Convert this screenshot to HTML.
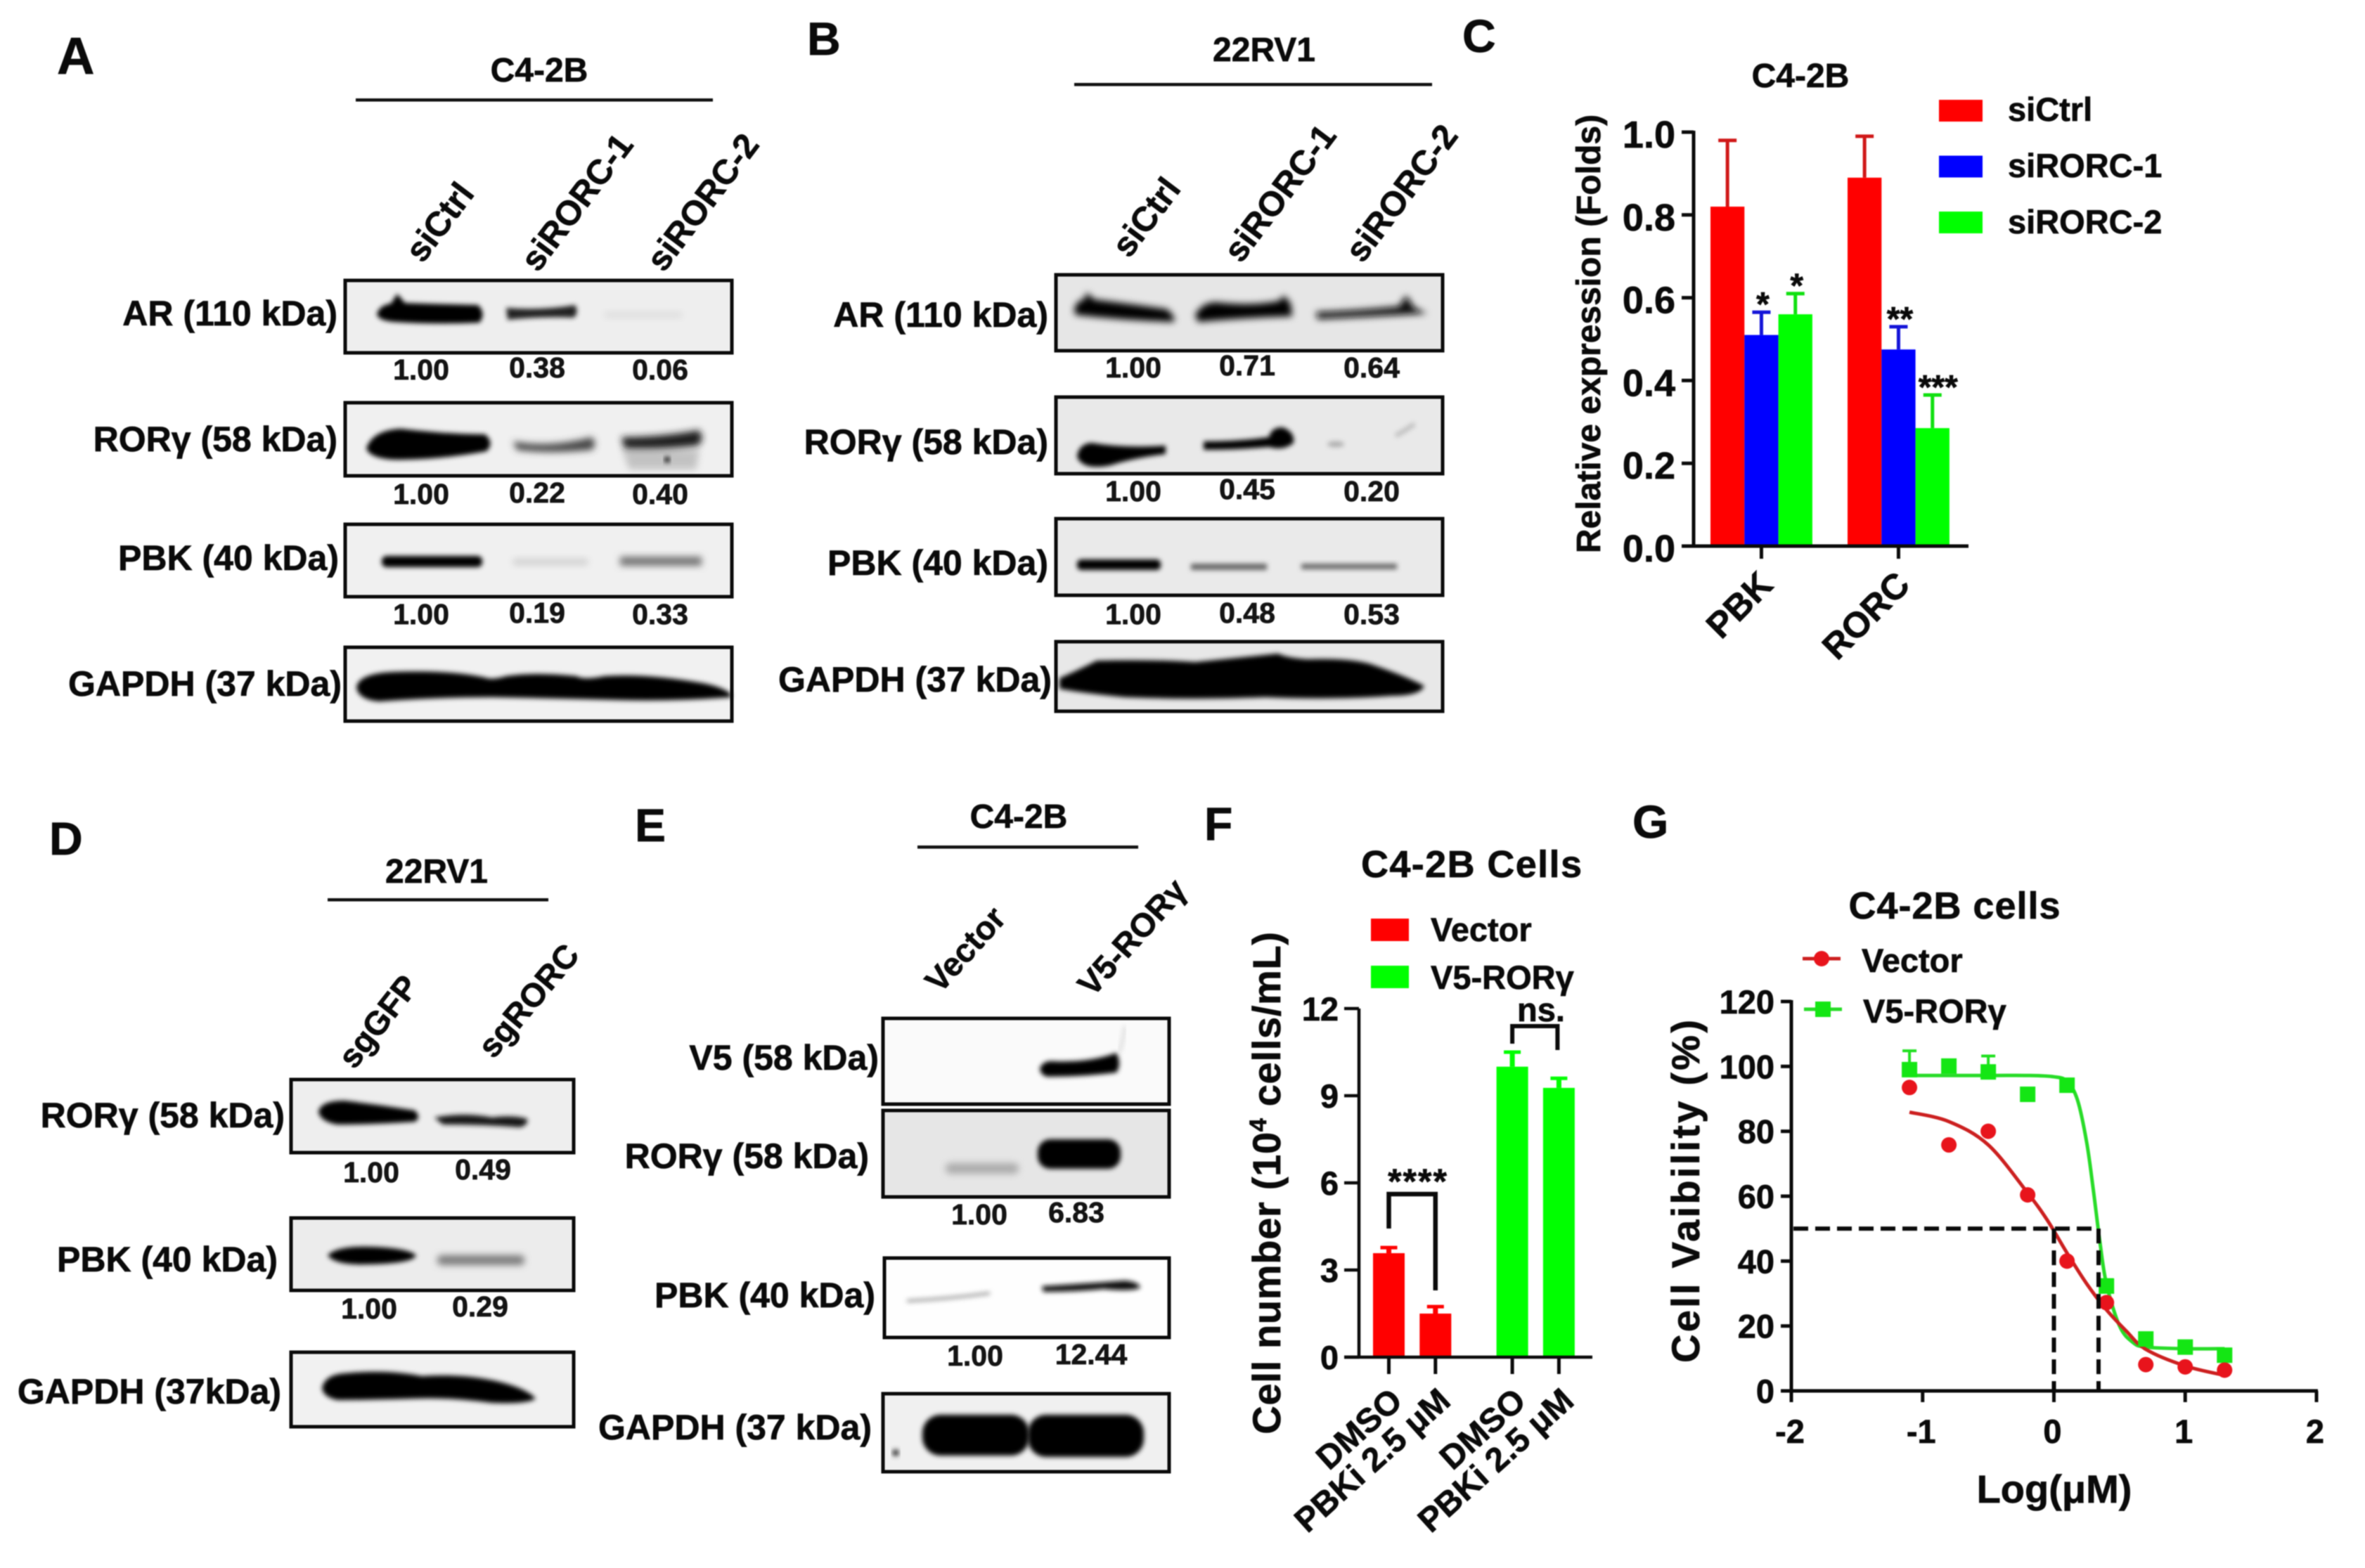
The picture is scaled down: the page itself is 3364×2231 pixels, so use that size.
<!DOCTYPE html>
<html lang="en">
<head>
<meta charset="utf-8">
<title>Western blots and charts</title>
<style>
html,body{margin:0;padding:0;background:#fff;}
#figure{display:block;width:3364px;height:2231px;filter:blur(0.8px);}
text{font-family:"Liberation Sans",sans-serif;font-weight:700;fill:#0a0a0a;stroke:#0a0a0a;stroke-width:.7px;}
.p{font-size:66px;}
.h{font-size:48px;text-anchor:middle;}
.s{font-size:47px;}
.s2{font-size:49px;}
.l{font-size:50px;text-anchor:end;}
.v{font-size:41px;text-anchor:middle;fill:#141414;}
.box{fill:none;stroke:#0a0a0a;stroke-width:5;}
</style>
</head>
<body>
<svg id="figure" xmlns="http://www.w3.org/2000/svg" width="3364" height="2231" viewBox="0 0 3364 2231">
<defs>
<filter id="b2" x="-20%" y="-80%" width="140%" height="260%"><feGaussianBlur stdDeviation="3.5"/></filter>
<filter id="b4" x="-20%" y="-80%" width="140%" height="260%"><feGaussianBlur stdDeviation="5"/></filter>
<filter id="b8" x="-30%" y="-150%" width="160%" height="400%"><feGaussianBlur stdDeviation="8"/></filter>
</defs>
<rect width="3364" height="2231" fill="#fff"/>

<!-- PANEL A -->
<g>
<text class="p" style="font-size:74px" x="81" y="105">A</text>
<text class="h" x="767" y="116">C4-2B</text>
<rect x="506" y="140" width="508" height="4.5" fill="#111"/>
<text class="s2" transform="translate(601,376) rotate(-53)">siCtrl</text>
<text class="s2" transform="translate(765,389) rotate(-53)">siRORC-1</text>
<text class="s2" transform="translate(944,389) rotate(-53)">siRORC-2</text>
<text class="l" x="480" y="463">AR (110 kDa)</text>
<text class="l" x="480" y="642">RORγ (58 kDa)</text>
<text class="l" x="482" y="811">PBK (40 kDa)</text>
<text class="l" x="486" y="990">GAPDH (37 kDa)</text>
<g>
<rect x="491" y="399" width="550" height="103" fill="#eeeeee"/>
<path filter="url(#b2)" d="M536 447Q540 434 556 432L565 418 576 431Q630 433 680 434Q692 446 682 459Q620 462 560 458Q538 456 536 447Z"/>
<path filter="url(#b2)" fill="#222" d="M720 438Q770 442 818 434Q824 445 816 452Q770 450 722 455Z"/>
<rect x="860" y="444" width="110" height="8" fill="#dcdcdc" filter="url(#b4)"/>
<rect x="491" y="399" width="550" height="103" class="box"/>
</g>
<g>
<rect x="491" y="573" width="550" height="104" fill="#f0f0f0"/>
<path filter="url(#b4)" fill="#8c8c8c" d="M885 640H995L990 668H895Z" opacity=".45"/>
<path filter="url(#b2)" d="M521 638Q530 612 570 610Q640 618 690 618Q704 630 692 642Q620 655 560 654Q526 652 521 638Z"/>
<path filter="url(#b4)" fill="#444" d="M730 628Q780 638 842 622Q850 632 842 640Q780 646 735 640Z"/>
<path filter="url(#b4)" fill="#1c1c1c" d="M884 622Q940 622 994 612Q1004 625 992 634Q940 640 888 638Z"/>
<circle cx="949" cy="654" r="4" filter="url(#b2)"/>
<rect x="491" y="573" width="550" height="104" class="box"/>
</g>
<g>
<rect x="491" y="746" width="550" height="103" fill="#f0f0f0"/>
<rect x="543" y="791" width="143" height="16" rx="7" filter="url(#b2)"/>
<rect x="730" y="795" width="106" height="9" fill="#cfcfcf" filter="url(#b4)"/>
<rect x="882" y="792" width="116" height="13" fill="#737373" filter="url(#b4)"/>
<rect x="491" y="746" width="550" height="103" class="box"/>
</g>
<g>
<rect x="491" y="921" width="550" height="105" fill="#f1f1f1"/>
<path filter="url(#b2)" d="M507 978Q510 958 560 956Q640 953 690 964Q700 968 720 962Q760 956 820 962Q830 968 860 962Q920 958 1000 972Q1030 978 1040 988V992Q960 998 880 996Q800 994 700 992Q620 992 540 998Q510 996 507 978Z"/>
<rect x="491" y="921" width="550" height="105" class="box"/>
</g>
<text class="v" x="599" y="540">1.00</text>
<text class="v" x="764" y="537">0.38</text>
<text class="v" x="939" y="540">0.06</text>
<text class="v" x="599" y="717">1.00</text>
<text class="v" x="764" y="715">0.22</text>
<text class="v" x="939" y="717">0.40</text>
<text class="v" x="599" y="888">1.00</text>
<text class="v" x="764" y="886">0.19</text>
<text class="v" x="939" y="888">0.33</text>
</g>

<!-- PANEL B -->
<g>
<text class="p" x="1148" y="78">B</text>
<text class="h" x="1798" y="87">22RV1</text>
<rect x="1528" y="118" width="509" height="4.5" fill="#111"/>
<text class="s2" transform="translate(1606,369) rotate(-53)">siCtrl</text>
<text class="s2" transform="translate(1765,376) rotate(-53)">siRORC-1</text>
<text class="s2" transform="translate(1938,376) rotate(-53)">siRORC-2</text>
<text class="l" x="1491" y="465">AR (110 kDa)</text>
<text class="l" x="1491" y="646">RORγ (58 kDa)</text>
<text class="l" x="1491" y="818">PBK (40 kDa)</text>
<text class="l" x="1496" y="984">GAPDH (37 kDa)</text>
<g>
<rect x="1502" y="391" width="550" height="108" fill="#e6e6e6"/>
<path filter="url(#b4)" d="M1528 442Q1530 428 1542 426L1546 416 1556 426Q1620 434 1660 440Q1672 450 1670 458Q1600 456 1530 448Z"/>
<path filter="url(#b4)" d="M1700 448Q1710 430 1730 430Q1780 436 1820 428L1826 420 1836 432 1838 450Q1770 452 1704 458Z"/>
<path filter="url(#b4)" fill="#111" d="M1872 444Q1930 442 1990 436L2000 420 2012 438 2030 446Q1960 450 1874 454Z"/>
<rect x="1502" y="391" width="550" height="108" class="box"/>
</g>
<g>
<rect x="1502" y="565" width="550" height="109" fill="#e9e9e9"/>
<path filter="url(#b2)" d="M1532 650Q1534 632 1552 630Q1600 638 1658 634V646Q1610 652 1580 662Q1540 670 1532 650Z"/>
<path filter="url(#b2)" d="M1712 628Q1760 628 1805 622Q1808 608 1824 608Q1842 614 1840 630Q1826 642 1805 636Q1760 640 1712 640Z"/>
<ellipse cx="1900" cy="632" rx="12" ry="4" fill="#aaa" filter="url(#b2)"/>
<path d="M1985 620Q2000 612 2012 603" stroke="#bbb" stroke-width="6" fill="none" filter="url(#b2)"/>
<rect x="1502" y="565" width="550" height="109" class="box"/>
</g>
<g>
<rect x="1502" y="738" width="550" height="109" fill="#eaeaea"/>
<rect x="1532" y="796" width="119" height="15" rx="6" filter="url(#b2)"/>
<rect x="1694" y="802" width="108" height="9" fill="#666" filter="url(#b2)"/>
<rect x="1851" y="802" width="136" height="8" fill="#6a6a6a" filter="url(#b2)"/>
<rect x="1502" y="738" width="550" height="109" class="box"/>
</g>
<g>
<rect x="1502" y="913" width="550" height="99" fill="#e8e8e8"/>
<path filter="url(#b2)" d="M1507 965Q1530 955 1560 940Q1640 938 1700 942Q1760 936 1818 930Q1830 936 1860 938Q1920 936 1950 945Q2000 962 2026 976Q2020 990 1980 990Q1900 996 1800 992Q1700 996 1600 992Q1540 986 1507 980Z"/>
<rect x="1502" y="913" width="550" height="99" class="box"/>
</g>
<text class="v" x="1612" y="537">1.00</text>
<text class="v" x="1774" y="534">0.71</text>
<text class="v" x="1951" y="537">0.64</text>
<text class="v" x="1612" y="713">1.00</text>
<text class="v" x="1774" y="710">0.45</text>
<text class="v" x="1951" y="713">0.20</text>
<text class="v" x="1612" y="888">1.00</text>
<text class="v" x="1774" y="886">0.48</text>
<text class="v" x="1951" y="888">0.53</text>
</g>

<!-- PANEL D -->
<g>
<text class="p" x="70" y="1216">D</text>
<text class="h" x="621" y="1256">22RV1</text>
<rect x="466" y="1278" width="314" height="4.5" fill="#111"/>
<text class="s" transform="translate(504,1523) rotate(-52)">sgGFP</text>
<text class="s" transform="translate(702,1508) rotate(-50)">sgRORC</text>
<text class="l" x="405" y="1604">RORγ (58 kDa)</text>
<text class="l" x="395" y="1809">PBK (40 kDa)</text>
<text class="l" x="400" y="1997">GAPDH (37kDa)</text>
<g>
<rect x="414" y="1536" width="402" height="104" fill="#eeeeee"/>
<path filter="url(#b2)" d="M453 1582Q456 1566 490 1566Q540 1572 590 1580Q600 1590 590 1596Q530 1600 480 1600Q456 1596 453 1582Z"/>
<path filter="url(#b2)" fill="#141414" d="M618 1590Q660 1582 700 1590Q730 1586 750 1592Q752 1600 740 1604Q690 1600 630 1600Z"/>
<rect x="414" y="1536" width="402" height="104" class="box"/>
</g>
<g>
<rect x="414" y="1733" width="402" height="103" fill="#ececec"/>
<path filter="url(#b2)" d="M466 1786Q480 1772 530 1774Q580 1776 592 1786Q588 1798 520 1799Q476 1800 466 1786Z"/>
<rect x="622" y="1786" width="124" height="14" rx="6" fill="#7a7a7a" filter="url(#b4)"/>
<rect x="414" y="1733" width="402" height="103" class="box"/>
</g>
<g>
<rect x="414" y="1924" width="402" height="106" fill="#f1f1f1"/>
<path filter="url(#b2)" d="M458 1975Q462 1956 490 1954Q550 1948 600 1958Q660 1954 710 1966Q750 1976 762 1990Q750 1998 700 1996Q640 1988 590 1990Q520 1992 480 1992Q460 1988 458 1975Z"/>
<rect x="414" y="1924" width="402" height="106" class="box"/>
</g>
<text class="v" x="528" y="1682">1.00</text>
<text class="v" x="687" y="1678">0.49</text>
<text class="v" x="525" y="1876">1.00</text>
<text class="v" x="683" y="1873">0.29</text>
</g>

<!-- PANEL E -->
<g>
<text class="p" x="903" y="1197">E</text>
<text class="h" x="1449" y="1178">C4-2B</text>
<rect x="1305" y="1203" width="314" height="4.5" fill="#111"/>
<text class="s" transform="translate(1337,1415) rotate(-48)">Vector</text>
<text class="s" transform="translate(1554,1420) rotate(-48)">V5-RORγ</text>
<text class="l" x="1250" y="1522">V5 (58 kDa)</text>
<text class="l" x="1236" y="1662">RORγ (58 kDa)</text>
<text class="l" x="1245" y="1860">PBK (40 kDa)</text>
<text class="l" x="1240" y="2048">GAPDH (37 kDa)</text>
<g>
<rect x="1256" y="1449" width="407" height="122" fill="#fafafa"/>
<path filter="url(#b2)" d="M1479 1520Q1484 1508 1500 1510Q1550 1512 1588 1498Q1596 1514 1588 1526Q1540 1532 1490 1532Q1480 1530 1479 1520Z"/>
<path d="M1592 1498Q1598 1480 1600 1460" stroke="#ddd" stroke-width="5" fill="none" filter="url(#b2)"/>
<rect x="1256" y="1449" width="407" height="122" class="box"/>
</g>
<g>
<rect x="1256" y="1580" width="407" height="123" fill="#e6e6e6"/>
<rect x="1345" y="1655" width="104" height="15" rx="7" fill="#aaa" filter="url(#b4)"/>
<rect x="1476" y="1621" width="118" height="42" rx="18" filter="url(#b2)"/>
<rect x="1256" y="1580" width="407" height="123" class="box"/>
</g>
<g>
<rect x="1258" y="1790" width="405" height="113" fill="#fefefe"/>
<path d="M1290 1851Q1350 1848 1408 1840" stroke="#999" stroke-width="4" fill="none" filter="url(#b2)"/>
<path filter="url(#b2)" fill="#111" d="M1482 1830Q1550 1826 1600 1822Q1620 1824 1622 1832Q1610 1838 1570 1834Q1530 1838 1484 1838Z"/>
<rect x="1258" y="1790" width="405" height="113" class="box"/>
</g>
<g>
<rect x="1256" y="1983" width="407" height="111" fill="#f0f0f0"/>
<rect x="1312" y="2013" width="152" height="58" rx="26" filter="url(#b2)"/>
<rect x="1462" y="2013" width="165" height="60" rx="26" filter="url(#b2)"/>
<circle cx="1274" cy="2067" r="5" fill="#333" filter="url(#b2)"/>
<rect x="1256" y="1983" width="407" height="111" class="box"/>
</g>
<text class="v" x="1393" y="1742">1.00</text>
<text class="v" x="1531" y="1739">6.83</text>
<text class="v" x="1387" y="1943">1.00</text>
<text class="v" x="1552" y="1941">12.44</text>
</g>

<!-- CHART PANEL LETTERS -->
<text class="p" x="2080" y="74">C</text>
<text class="p" x="1713" y="1195">F</text>
<text class="p" x="2322" y="1192">G</text>

<g id="chart-c"></g>
<g id="chart-f"></g>
<g id="chart-g"></g>
</svg>

<script>
/* ---------- Panel C data ---------- */
const cCategories = ['PBK', 'RORC'];
const cSeriesNames = ['siCtrl', 'siRORC-1', 'siRORC-2'];
const cSiCtrl = [0.82, 0.89];
const cSiRorc1 = [0.51, 0.475];
const cSiRorc2 = [0.56, 0.285];
const cErrCtrl = [0.16, 0.10];
const cErrRorc1 = [0.055, 0.055];
const cErrRorc2 = [0.05, 0.08];
const cStarsRorc1 = ['*', '**'];
const cStarsRorc2 = ['*', '***'];
const cTickLabels = ['0.0', '0.2', '0.4', '0.6', '0.8', '1.0'];

/* ---------- Panel F data ---------- */
const fCategories = ['DMSO', 'PBKi 2.5 μM', 'DMSO', 'PBKi 2.5 μM'];
const fSeriesNames = ['Vector', 'V5-RORγ'];
const fCellNumber = [3.58, 1.5, 10.0, 9.27];
const fError = [0.19, 0.24, 0.5, 0.33];
const fTickLabels = ['0', '3', '6', '9', '12'];

/* ---------- Panel G data ---------- */
const gSeriesNames = ['Vector', 'V5-RORγ'];
const gDoses = [-1.1, -0.8, -0.5, -0.2, 0.1, 0.4, 0.7, 1.0, 1.3];
const gVector = [93.5, 75.8, 80, 60.4, 40, 27.2, 8.1, 7.4, 6.4];
const gV5Rory = [99, 100.1, 98.3, 91.4, 94.2, 32.3, 16, 13.5, 11];
const gV5ErrorUp = [5.8, 0, 4.9, 0, 1.5, 2, 0, 0, 0];
const gVectorCurveX = [-1.1, -0.8, -0.5, -0.2, -0.05, 0.1, 0.25, 0.4, 0.55, 0.7, 1.0, 1.3];
const gVectorCurveY = [85.9, 83, 75.8, 61, 52.6, 42.5, 33, 25, 18.5, 12.8, 7.7, 4.8];
const gV5CurveX = [-1.1, -0.5, -0.2, 0, 0.1, 0.18, 0.25, 0.3, 0.35, 0.4, 0.5, 0.6, 0.7, 1.0, 1.3];
const gV5CurveY = [97.2, 97.2, 97.2, 96.8, 95.4, 89.6, 76.5, 62, 46, 33, 20, 15, 13.5, 13, 13];
const gCutLevel = [50];
const gCutDoses = [0, 0.34];
const gYTickLabels = ['0', '20', '40', '60', '80', '100', '120'];
const gXTickLabels = ['-2', '-1', '0', '1', '2'];

const NS = 'http://www.w3.org/2000/svg';
function mk(tag, attrs, parent, txt) {
  const n = document.createElementNS(NS, tag);
  for (const k in attrs) n.setAttribute(k, attrs[k]);
  if (txt !== undefined) n.textContent = txt;
  parent.appendChild(n);
  return n;
}
const RED = '#ff0000', BLUE = '#0000ff', GREEN = '#00ff00';

/* ---------- Panel C ---------- */
(function () {
  const g = document.getElementById('chart-c');
  const yC = v => 777 - 589 * v;
  const barW = 48.3;
  const xC = (cat, s) => 2433 + cat * 195 + s * barW;
  const series = [cSiCtrl, cSiRorc1, cSiRorc2];
  const errs = [cErrCtrl, cErrRorc1, cErrRorc2];
  const colors = [RED, BLUE, GREEN];
  const errColors = ['#d01818', '#1414d8', '#10e010'];
  const stars = [null, cStarsRorc1, cStarsRorc2];

  const title = mk('text', {x: 2561, y: 124, 'font-size': 48, 'text-anchor': 'middle'}, g, 'C4-2B');
  
  

  series.forEach((vals, s) => {
    vals.forEach((v, c) => {
      const cx = xC(c, s) + barW / 2;
      const stem = mk('line', {x1: cx, x2: cx, y1: yC(v), y2: yC(v + errs[s][c]), stroke: errColors[s], 'stroke-width': 5}, g);
      
      
      const cap = mk('line', {x1: cx - 13, x2: cx + 13, y1: yC(v + errs[s][c]), y2: yC(v + errs[s][c]), stroke: errColors[s], 'stroke-width': 5}, g);
      
      
      const bar = mk('rect', {x: xC(c, s), y: yC(v), width: barW, height: yC(0) - yC(v), fill: colors[s]}, g);
      
      
      if (stars[s]) {
        const st = mk('text', {x: cx + (c === 1 && s === 2 ? 8 : 2), y: yC(v + errs[s][c]) + 5, 'font-size': 48, 'text-anchor': 'middle'}, g, stars[s][c]);
        
        
      }
    });
  });

  const yAxis = mk('line', {x1: 2409, x2: 2409, y1: yC(1) - 2, y2: yC(0) + 2, stroke: '#0a0a0a', 'stroke-width': 5}, g);
  
  
  const xAxis = mk('line', {x1: 2392, x2: 2800, y1: yC(0), y2: yC(0), stroke: '#0a0a0a', 'stroke-width': 5}, g);
  
  

  cTickLabels.forEach(t => {
    const v = parseFloat(t);
    const tick = mk('line', {x1: 2392, x2: 2409, y1: yC(v), y2: yC(v), stroke: '#0a0a0a', 'stroke-width': 5}, g);
    
    
    const lab = mk('text', {x: 2383, y: yC(v) + 22, 'font-size': 54, 'text-anchor': 'end'}, g, t);
    
    
  });

  cCategories.forEach((name, c) => {
    const cx = xC(c, 1) + barW / 2;
    const tick = mk('line', {x1: cx, x2: cx, y1: yC(0), y2: yC(0) + 18, stroke: '#0a0a0a', 'stroke-width': 5}, g);
    
    
    const lab = mk('text', {transform: 'translate(' + (cx + 19) + ',835) rotate(-45)', 'font-size': 51, 'text-anchor': 'end'}, g, name);
    
    
  });

  const yTitle = mk('text', {transform: 'translate(2276,475) rotate(-90)', 'font-size': 48, 'text-anchor': 'middle'}, g, 'Relative expression (Folds)');
  
  

  cSeriesNames.forEach((name, i) => {
    const sw = mk('rect', {x: 2758, y: 142 + i * 79.5, width: 62, height: 31, fill: colors[i]}, g);
    
    
    const lab = mk('text', {x: 2856, y: 172 + i * 80, 'font-size': 47}, g, name);
    
    
  });
})();

/* ---------- Panel F ---------- */
(function () {
  const g = document.getElementById('chart-f');
  const yF = v => 1931 - v * 41.33;
  const xF = i => 1975.5 + 66.3 * i + (i >= 2 ? 43 : 0);
  const barW = 45;
  const fColors = [RED, RED, GREEN, GREEN];

  const title = mk('text', {x: 2093, y: 1248, 'font-size': 54, 'text-anchor': 'middle', textLength: 314}, g, 'C4-2B Cells');
  
  

  fSeriesNames.forEach((name, i) => {
    const sw = mk('rect', {x: 1950, y: 1307 + i * 67, width: 54, height: 32, fill: i ? GREEN : RED}, g);
    
    
    const lab = mk('text', {x: 2035, y: 1339 + i * 68, 'font-size': 47}, g, name);
    
    
  });

  fCellNumber.forEach((v, i) => {
    const cx = xF(i);
    const top = yF(v + fError[i]);
    const stem = mk('line', {x1: cx, x2: cx, y1: yF(v), y2: top, stroke: fColors[i], 'stroke-width': 7}, g);
    
    
    const cap = mk('line', {x1: cx - 12, x2: cx + 12, y1: top, y2: top, stroke: fColors[i], 'stroke-width': 5}, g);
    
    
    const bar = mk('rect', {x: cx - barW / 2, y: yF(v), width: barW, height: yF(0) - yF(v), fill: fColors[i]}, g);
    
    
    const tick = mk('line', {x1: cx, x2: cx, y1: yF(0), y2: yF(0) + 24, stroke: '#0a0a0a', 'stroke-width': 5}, g);
    
    
    const lab = mk('text', {transform: 'translate(' + (cx + (i % 2 ? 24 : 22)) + ',1997) rotate(-42)', 'font-size': 48, 'text-anchor': 'end'}, g, fCategories[i]);
    
    
  });

  const yAxis = mk('line', {x1: 1933, x2: 1933, y1: yF(12), y2: yF(0), stroke: '#0a0a0a', 'stroke-width': 4.5}, g);
  
  
  const xAxis = mk('line', {x1: 1912, x2: 2265, y1: yF(0), y2: yF(0), stroke: '#0a0a0a', 'stroke-width': 4.5}, g);
  
  

  fTickLabels.forEach(t => {
    const v = parseFloat(t);
    const tick = mk('line', {x1: 1912, x2: 1933, y1: yF(v), y2: yF(v), stroke: '#0a0a0a', 'stroke-width': 4.5}, g);
    
    
    const lab = mk('text', {x: 1904, y: yF(v) + 17, 'font-size': 47, 'text-anchor': 'end'}, g, t);
    
    
  });

  const br1 = mk('path', {d: 'M' + xF(0) + ' 1748V1699H' + xF(1) + 'V1836', fill: 'none', stroke: '#0a0a0a', 'stroke-width': 6.5}, g);
  
  
  const s1 = mk('text', {x: 2017, y: 1698, 'font-size': 50, 'text-anchor': 'middle', 'letter-spacing': '2'}, g, '****');
  
  
  const br2 = mk('path', {d: 'M' + xF(2) + ' 1485V1460H' + (xF(3) - 2) + 'V1494', fill: 'none', stroke: '#0a0a0a', 'stroke-width': 6}, g);
  
  
  const s2 = mk('text', {x: 2192, y: 1453, 'font-size': 47, 'text-anchor': 'middle'}, g, 'ns.');
  
  

  const yTitle = mk('text', {transform: 'translate(1821,1683) rotate(-90)', 'font-size': 56, 'text-anchor': 'middle', 'letter-spacing': '0.7'}, g);
  
  
  mk('tspan', {}, yTitle, 'Cell number (10');
  mk('tspan', {dy: -20, 'font-size': 34}, yTitle, '4');
  mk('tspan', {dy: 20}, yTitle, ' cells/mL)');
})();

/* ---------- Panel G ---------- */
(function () {
  const g = document.getElementById('chart-g');
  const xG = v => 2921.5 + 186.75 * v;
  const yG = v => 1979 - 4.617 * v;
  const curvePath = (xs, ys) => {
    const pts = xs.map((x, i) => [xG(x), yG(ys[i])]);
    let d = 'M' + pts[0][0] + ' ' + pts[0][1];
    for (let i = 0; i < pts.length - 1; i++) {
      const p0 = pts[Math.max(i - 1, 0)], p1 = pts[i], p2 = pts[i + 1], p3 = pts[Math.min(i + 2, pts.length - 1)];
      d += 'C' + (p1[0] + (p2[0] - p0[0]) / 6) + ' ' + (p1[1] + (p2[1] - p0[1]) / 6) + ' ' +
           (p2[0] - (p3[0] - p1[0]) / 6) + ' ' + (p2[1] - (p3[1] - p1[1]) / 6) + ' ' + p2[0] + ' ' + p2[1];
    }
    return d;
  };

  const title = mk('text', {x: 2780, y: 1307, 'font-size': 54, 'text-anchor': 'middle', textLength: 301}, g, 'C4-2B cells');
  
  

  const green = mk('path', {d: curvePath(gV5CurveX, gV5CurveY), fill: 'none', stroke: '#28dc28', 'stroke-width': 5}, g);
  
  
  const redC = mk('path', {d: curvePath(gVectorCurveX, gVectorCurveY), fill: 'none', stroke: '#cc2020', 'stroke-width': 5}, g);
  
  

  gDoses.forEach((d, i) => {
    const v = gV5Rory[i];
    if (gV5ErrorUp[i] > 0) {
      const stem = mk('line', {x1: xG(d), x2: xG(d), y1: yG(v), y2: yG(v + gV5ErrorUp[i]), stroke: '#20e020', 'stroke-width': 4}, g);
      
      
      const cap = mk('line', {x1: xG(d) - 10, x2: xG(d) + 10, y1: yG(v + gV5ErrorUp[i]), y2: yG(v + gV5ErrorUp[i]), stroke: '#20e020', 'stroke-width': 4}, g);
      
      
    }
    const sq = mk('rect', {x: xG(d) - 11, y: yG(v) - 11, width: 22, height: 22, fill: '#14e614'}, g);
    
    
  });
  gDoses.forEach((d, i) => {
    const c = mk('circle', {cx: xG(d), cy: yG(gVector[i]), r: 11, fill: '#e8141c'}, g);
    
    
  });

  const hDash = mk('line', {x1: xG(-2) + 3, x2: xG(gCutDoses[1]), y1: yG(gCutLevel[0]), y2: yG(gCutLevel[0]), stroke: '#0a0a0a', 'stroke-width': 6, 'stroke-dasharray': '21 10'}, g);
  
  
  gCutDoses.forEach(d => {
    const vDash = mk('line', {x1: xG(d), x2: xG(d), y1: yG(gCutLevel[0]), y2: yG(0), stroke: '#0a0a0a', 'stroke-width': 6, 'stroke-dasharray': '21 10'}, g);
    
    
  });

  const yAxis = mk('line', {x1: xG(-2), x2: xG(-2), y1: yG(120) - 2, y2: yG(0) + 2, stroke: '#0a0a0a', 'stroke-width': 5}, g);
  
  
  const xAxis = mk('line', {x1: 2533, x2: xG(2) + 2, y1: yG(0), y2: yG(0), stroke: '#0a0a0a', 'stroke-width': 5}, g);
  
  

  gYTickLabels.forEach(t => {
    const v = parseFloat(t);
    const tick = mk('line', {x1: 2533, x2: xG(-2), y1: yG(v), y2: yG(v), stroke: '#0a0a0a', 'stroke-width': 5}, g);
    
    
    const lab = mk('text', {x: 2524, y: yG(v) + 17, 'font-size': 47, 'text-anchor': 'end'}, g, t);
    
    
  });
  gXTickLabels.forEach(t => {
    const v = parseFloat(t);
    const tick = mk('line', {x1: xG(v), x2: xG(v), y1: yG(0), y2: 1995, stroke: '#0a0a0a', 'stroke-width': 5}, g);
    
    
    const lab = mk('text', {x: xG(v) - 2, y: 2053, 'font-size': 47, 'text-anchor': 'middle'}, g, t);
    
    
  });

  const xTitle = mk('text', {x: 2922, y: 2138, 'font-size': 56, 'text-anchor': 'middle'}, g, 'Log(μM)');
  
  
  const yTitle = mk('text', {transform: 'translate(2417,1695) rotate(-90)', 'font-size': 56, 'text-anchor': 'middle', textLength: 488}, g, 'Cell Vaibility (%)');
  
  

  const l1 = mk('line', {x1: 2564, x2: 2618, y1: 1364, y2: 1364, stroke: '#cc2020', 'stroke-width': 5}, g);
  
  
  const m1 = mk('circle', {cx: 2591, cy: 1364, r: 11, fill: '#e8141c'}, g);
  
  
  const t1 = mk('text', {x: 2648, y: 1383, 'font-size': 47}, g, gSeriesNames[0]);
  
  
  const l2 = mk('line', {x1: 2566, x2: 2620, y1: 1436, y2: 1436, stroke: '#28dc28', 'stroke-width': 5}, g);
  
  
  const m2 = mk('rect', {x: 2582, y: 1425, width: 22, height: 22, fill: '#14e614'}, g);
  
  
  const t2 = mk('text', {x: 2650, y: 1455, 'font-size': 47}, g, gSeriesNames[1]);
  
  
})();
</script>
</body>
</html>
